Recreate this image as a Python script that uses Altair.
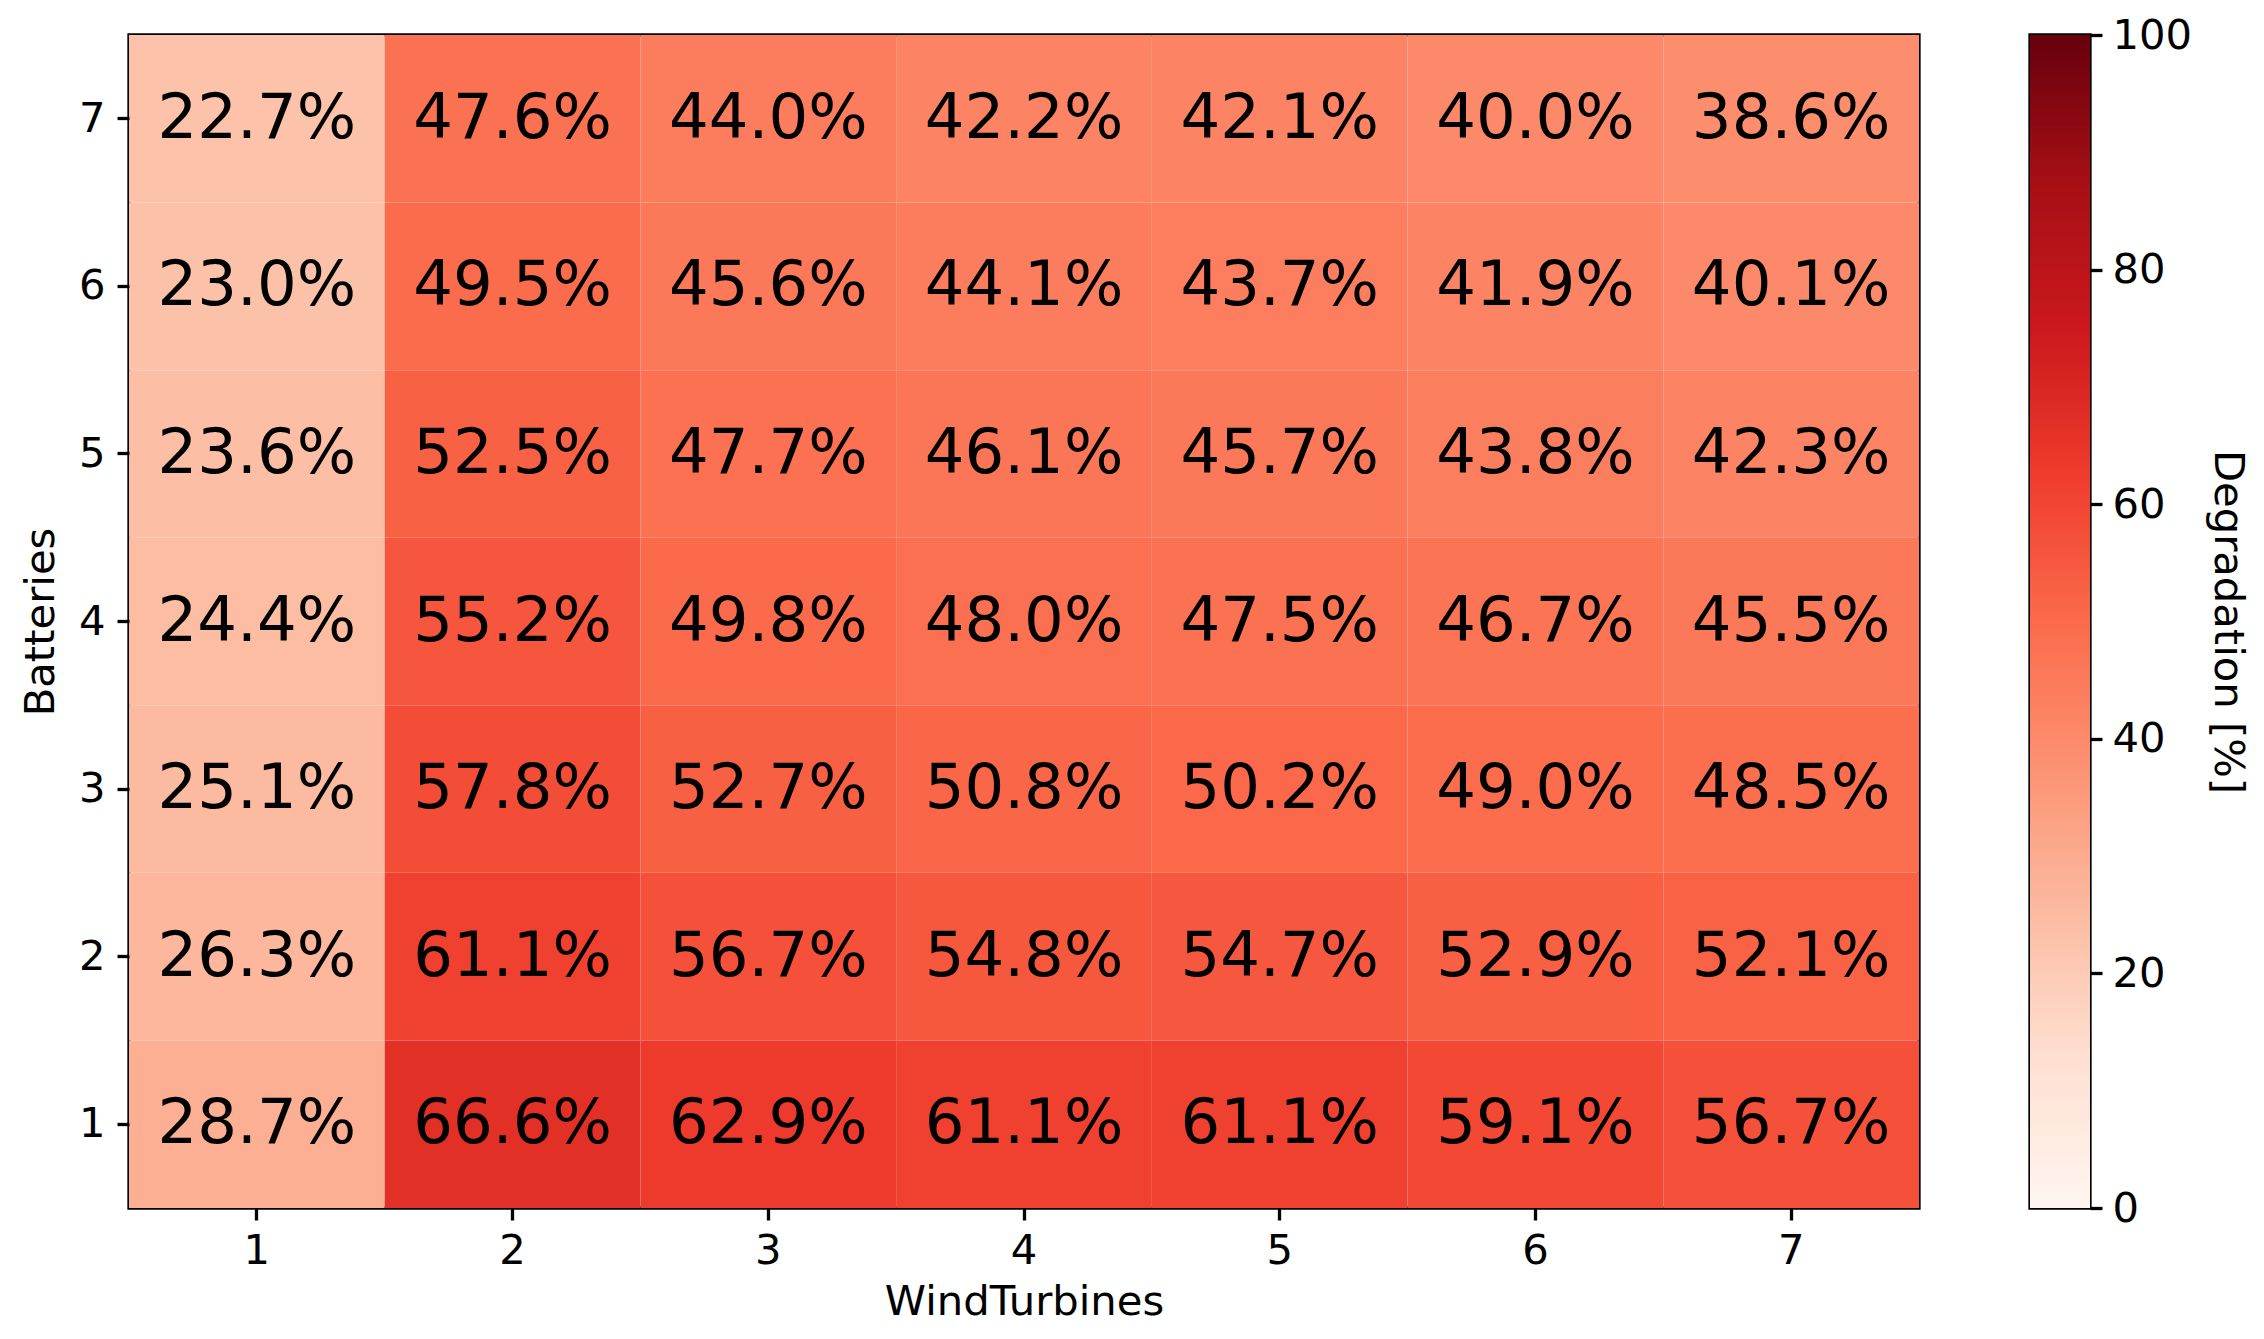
import altair as alt
import pandas as pd
import numpy as np

turbines = [1, 2, 3, 4, 5, 6, 7]
batteries = [7, 6, 5, 4, 3, 2, 1]
# rows: batteries 7 (top) .. 1 (bottom); columns: wind turbines 1..7
values = [
    [22.7, 47.6, 44.0, 42.2, 42.1, 40.0, 38.6],
    [23.0, 49.5, 45.6, 44.1, 43.7, 41.9, 40.1],
    [23.6, 52.5, 47.7, 46.1, 45.7, 43.8, 42.3],
    [24.4, 55.2, 49.8, 48.0, 47.5, 46.7, 45.5],
    [25.1, 57.8, 52.7, 50.8, 50.2, 49.0, 48.5],
    [26.3, 61.1, 56.7, 54.8, 54.7, 52.9, 52.1],
    [28.7, 66.6, 62.9, 61.1, 61.1, 59.1, 56.7],
]
cbar_ticks = [0, 20, 40, 60, 80, 100]
reds = ["#fff5f0", "#fee0d2", "#fcbba1", "#fc9272", "#fb6a4a",
        "#ef3b2c", "#cb181d", "#a50f15", "#67000d"]
reds_domain = [i * 12.5 for i in range(9)]

rows = []
for b, row in zip(batteries, values):
    for t, v in zip(turbines, row):
        rows.append({"WindTurbines": t, "Batteries": b, "Degradation": v,
                     "label": f"{v:.1f}%"})
df = pd.DataFrame(rows)

FONT = "DejaVu Sans"
FS = 41.7
LW = 3.3

color_scale = alt.Scale(domain=reds_domain, range=reds, interpolate="rgb")

base = alt.Chart(df).encode(
    x=alt.X("WindTurbines:O", title="WindTurbines",
            scale=alt.Scale(paddingInner=0, paddingOuter=0),
            axis=alt.Axis(labelAngle=0, domain=False, tickSize=12, tickWidth=LW,
                          tickColor="black", labelPadding=10, titlePadding=10,
                          labelFontSize=FS, titleFontSize=FS, labelFont=FONT,
                          titleFont=FONT, titleFontWeight="normal",
                          labelColor="black", titleColor="black")),
    y=alt.Y("Batteries:O", title="Batteries", sort="descending",
            scale=alt.Scale(paddingInner=0, paddingOuter=0),
            axis=alt.Axis(domain=False, tickSize=12, tickWidth=LW,
                          tickColor="black", labelPadding=12, titlePadding=16,
                          labelFontSize=FS, titleFontSize=FS, labelFont=FONT,
                          titleFont=FONT, titleFontWeight="normal",
                          labelColor="black", titleColor="black")),
)

heat = base.mark_rect(strokeWidth=0).encode(
    color=alt.Color("Degradation:Q", scale=color_scale, legend=None)
)
text = base.mark_text(font=FONT, fontSize=62.5, color="black",
                      baseline="middle", align="center").encode(
    text="label:N"
)
main = alt.layer(heat, text).properties(width=1790, height=1173)

step = 0.25
levels = np.arange(0, 100, step)
cb_df = pd.DataFrame({"v": levels, "v2": np.minimum(levels + 2 * step, 100)})
cbar = alt.Chart(cb_df).mark_rect(strokeWidth=0).encode(
    y=alt.Y("v:Q", scale=alt.Scale(domain=[0, 100], nice=False, zero=False),
            title="Degradation [%]",
            axis=alt.Axis(orient="right", values=cbar_ticks, domain=False,
                          grid=False, tickSize=12, tickWidth=LW,
                          tickColor="black", labelPadding=10, titlePadding=14,
                          labelFontSize=FS, titleFontSize=FS, labelFont=FONT,
                          titleFont=FONT, titleFontWeight="normal",
                          labelColor="black", titleColor="black")),
    y2="v2:Q",
    color=alt.Color("v:Q", scale=color_scale, legend=None),
).properties(width=60, height=1173)

chart = alt.hconcat(main, cbar, spacing=107).configure_view(
    stroke="black", strokeWidth=LW
).properties(
    padding={"left": 10, "top": 5, "right": 5, "bottom": 2},
    background="white",
)

chart.save("out.html", embed_options={"renderer": "svg", "actions": False})
